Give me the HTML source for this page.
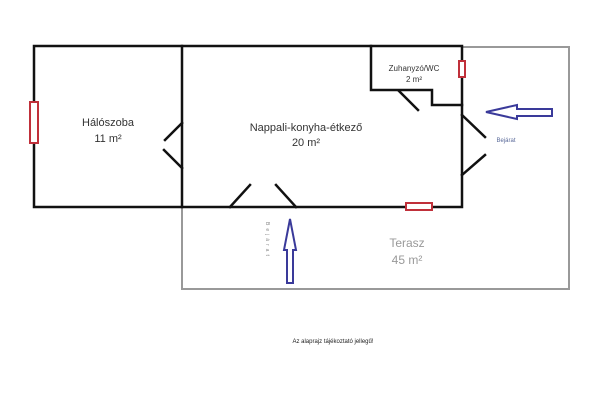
<!DOCTYPE html>
<html><head><meta charset="utf-8"><style>
html,body{margin:0;padding:0;background:#fff;width:600px;height:400px;overflow:hidden}
svg{display:block}
text{font-family:"Liberation Sans",sans-serif}
</style></head><body>
<svg width="600" height="400" viewBox="0 0 600 400">
<g fill="none" stroke="#999" stroke-width="2">
<polyline points="462,47 569,47 569,289 182,289 182,207"/>
</g>
<g fill="none" stroke="#111" stroke-width="2.5" stroke-linecap="square">
<rect x="34" y="46" width="428" height="161"/>
<line x1="182" y1="46" x2="182" y2="207"/>
<polyline points="371,46 371,90 432,90 432,105 462,105"/>
<line x1="182" y1="123" x2="165" y2="140"/>
<line x1="164" y1="150" x2="182" y2="168"/>
<line x1="230" y1="207" x2="250" y2="185"/>
<line x1="276" y1="185" x2="296" y2="207"/>
<line x1="462" y1="115" x2="485" y2="137"/>
<line x1="485" y1="155" x2="462" y2="175"/>
<line x1="399" y1="91" x2="418" y2="110"/>
</g>
<g fill="#fff" stroke="#c0303a" stroke-width="2">
<rect x="30" y="102" width="8" height="41"/>
<rect x="459" y="61" width="6" height="16"/>
<rect x="406" y="203" width="26" height="7"/>
</g>
<g fill="#fff" stroke="#3a3a9a" stroke-width="2">
<polygon points="486,112 517,105 517,109 552,109 552,116 517,116 517,119"/>
<polygon points="290,219 296,250 293,250 293,283 287,283 287,250 284,250"/>
</g>
<g fill="#333" font-size="11" text-anchor="middle">
<text x="108" y="126">Hálószoba</text>
<text x="108" y="142">11 m²</text>
<text x="306" y="131">Nappali-konyha-étkező</text>
<text x="306" y="146">20 m²</text>
<text x="414" y="71" font-size="8">Zuhanyzó/WC</text>
<text x="414" y="82" font-size="8">2 m²</text>
</g>
<text x="506" y="142" font-size="6" fill="#5a6a9a" text-anchor="middle">Bejárat</text>
<text x="407" y="247" font-size="12" fill="#999" text-anchor="middle">Terasz</text>
<text x="407" y="264" font-size="12" fill="#999" text-anchor="middle">45 m²</text>
<text x="266" y="222" font-size="5" fill="#888" transform="rotate(90 266 222)" letter-spacing="3">Bejárat</text>
<text x="333" y="343" font-size="6" fill="#222" text-anchor="middle">Az alaprajz tájékoztató jellegű!</text>
</svg>
</body></html>
